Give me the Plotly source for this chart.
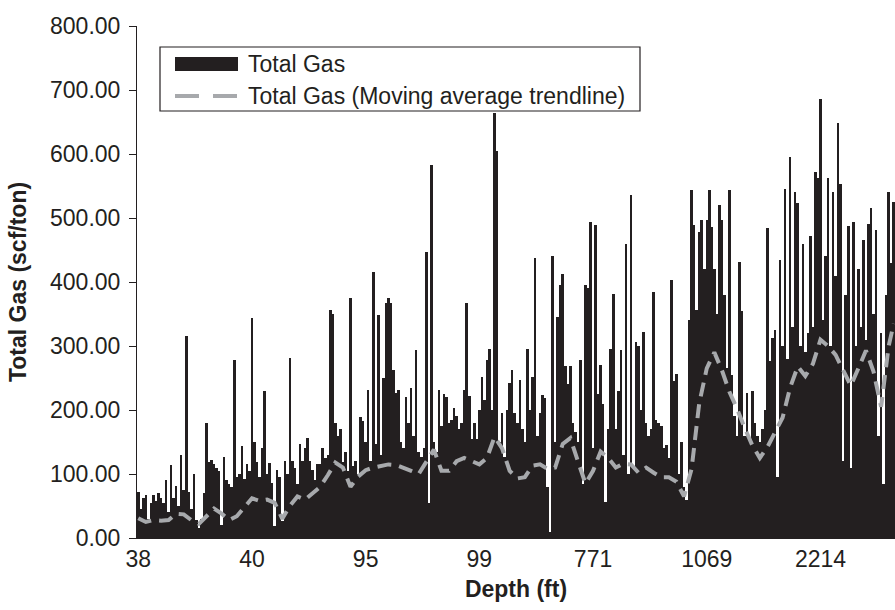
import plotly.graph_objects as go

# ---- data ----
depth_tick_labels = ["38", "40", "95", "99", "771", "1069", "2214"]
depth_tick_index = [0, 45, 90, 135, 180, 225, 270]

total_gas = [
    # 0-49
    72, 45, 62, 67, 30, 55, 67, 58, 70, 62,
    55, 90, 40, 114, 62, 82, 50, 130, 75, 315,
    72, 45, 100, 28, 15, 30, 70, 179, 118, 122,
    115, 110, 104, 20, 127, 90, 85, 80, 278, 95,
    100, 143, 92, 115, 105, 344, 150, 118, 95, 140,
    # 50-99
    230, 100, 117, 86, 18, 106, 95, 27, 121, 100,
    281, 121, 110, 85, 147, 121, 140, 156, 121, 106,
    90, 115, 116, 140, 125, 130, 356, 350, 180, 160,
    170, 118, 135, 104, 375, 112, 121, 100, 189, 183,
    150, 231, 120, 416, 147, 348, 130, 250, 367, 375,
    # 100-149
    367, 263, 226, 232, 150, 140, 221, 180, 234, 160,
    294, 135, 127, 140, 447, 54, 583, 150, 135, 232,
    175, 225, 220, 180, 185, 203, 190, 170, 179, 232,
    367, 222, 155, 179, 155, 200, 252, 215, 278, 296,
    200, 664, 604, 150, 195, 127, 200, 242, 263, 195,
    # 150-199
    179, 247, 170, 150, 296, 200, 252, 438, 160, 195,
    224, 218, 80, 10, 440, 150, 346, 395, 413, 268,
    240, 268, 180, 165, 150, 278, 85, 395, 390, 494,
    140, 489, 225, 270, 210, 56, 170, 296, 382, 170,
    230, 294, 130, 459, 100, 536, 110, 306, 300, 200,
    # 200-249
    322, 180, 160, 171, 385, 185, 180, 175, 140, 145,
    125, 403, 246, 257, 100, 150, 80, 60, 340, 544,
    489, 356, 478, 497, 420, 497, 544, 486, 420, 350,
    520, 497, 380, 265, 544, 255, 190, 160, 432, 354,
    160, 226, 155, 230, 180, 160, 150, 170, 200, 484,
    # 250-299
    276, 312, 325, 96, 434, 300, 546, 280, 596, 330,
    540, 523, 300, 460, 290, 320, 472, 330, 572, 562,
    686, 340, 440, 562, 300, 540, 410, 648, 553, 120,
    380, 487, 110, 494, 300, 420, 330, 466, 310, 490,
    515, 350, 482, 160, 320, 84, 380, 540, 430, 525,
]

moving_average = [
    31, 25, 28, 27, 28, 38, 37, 28, 22, 34,
    46, 38, 28, 34, 47, 62, 58, 60, 55, 30,
    50, 65, 60, 70, 80, 98, 118, 110, 80, 96,
    106, 110, 112, 115, 114, 110, 105, 100, 120, 138,
    105, 105, 120, 125, 120, 115, 125, 158, 140, 105,
    93, 95, 113, 115, 108, 110, 147, 156, 120, 85,
    105, 135, 125, 110, 116, 115, 102, 110, 102, 95,
    95, 88, 65, 108, 210, 265, 290, 262, 228, 202,
    172, 145, 125, 142, 165, 188, 235, 268, 253, 272,
    310, 300, 286, 262, 238, 265, 293, 260, 205, 300,
    335,
]

bar_index = list(range(len(total_gas)))
ma_index = list(range(0, len(total_gas), 3)) + [len(total_gas) - 1]

# ---- figure ----
W, H = 895, 610
L, R, T, B = 137, 0, 26, 72
PW, PH = W - L - R, H - T - B

INK = "#231f20"
GREY = "#a7a9ac"
FONT = "Liberation Sans, Arial, sans-serif"


def px(x):
    return (x - L) / PW


def py(y):
    return (H - B - y) / PH


fig = go.Figure()
fig.add_trace(go.Bar(
    x=bar_index, y=total_gas, name="Total Gas",
    marker=dict(color=INK, line=dict(width=0)),
    showlegend=False,
))
fig.add_trace(go.Scatter(
    x=ma_index, y=moving_average, mode="lines",
    name="Total Gas (Moving average trendline)",
    line=dict(color=GREY, width=4, dash="14px,8px"),
    showlegend=False,
))

# hand-drawn legend box (matches the reference layout)
shapes = [
    dict(type="rect", xref="paper", yref="paper",
         x0=px(160), x1=px(640), y0=py(47), y1=py(111),
         line=dict(color=INK, width=1.2), fillcolor="white", layer="above"),
    dict(type="rect", xref="paper", yref="paper",
         x0=px(175), x1=px(238), y0=py(57), y1=py(71),
         line=dict(width=0), fillcolor=INK, layer="above"),
    dict(type="line", xref="paper", yref="paper",
         x0=px(175), x1=px(238), y0=py(96), y1=py(96),
         line=dict(color=GREY, width=4, dash="24px,14px"), layer="above"),
]
annotations = [
    dict(xref="paper", yref="paper", x=px(246), y=py(64), text="Total Gas",
         showarrow=False, xanchor="left", yanchor="middle",
         font=dict(family=FONT, size=23, color=INK)),
    dict(xref="paper", yref="paper", x=px(246), y=py(96),
         text="Total Gas (Moving average trendline)",
         showarrow=False, xanchor="left", yanchor="middle",
         font=dict(family=FONT, size=23, color=INK)),
]

fig.update_layout(
    width=W, height=H,
    margin=dict(l=L, r=R, t=T, b=B, pad=0),
    paper_bgcolor="white", plot_bgcolor="white",
    bargap=0,
    font=dict(family=FONT, size=23, color=INK),
    shapes=shapes, annotations=annotations,
    showlegend=False,
)
fig.update_xaxes(
    range=[-0.5, len(total_gas) - 0.5],
    tickmode="array", tickvals=depth_tick_index, ticktext=depth_tick_labels,
    ticks="", showgrid=False, zeroline=False,
    showline=True, linecolor=INK, linewidth=1,
    tickfont=dict(family=FONT, size=23, color=INK),
    title=dict(text="Depth (ft)", standoff=10,
               font=dict(family=FONT, size=23, color=INK, weight="bold")),
    automargin=False,
)
fig.update_yaxes(
    range=[0, 800], tickmode="array",
    tickvals=[0, 100, 200, 300, 400, 500, 600, 700, 800],
    tickformat=".2f",
    ticks="outside", ticklen=7, tickcolor=INK, tickwidth=1,
    ticklabelstandoff=4,
    showgrid=False, zeroline=False,
    showline=True, linecolor=INK, linewidth=1,
    tickfont=dict(family=FONT, size=23, color=INK),
    title=dict(text="Total Gas (scf/ton)", standoff=16,
               font=dict(family=FONT, size=23, color=INK, weight="bold")),
    automargin=False,
)

fig.write_html("out.html")
